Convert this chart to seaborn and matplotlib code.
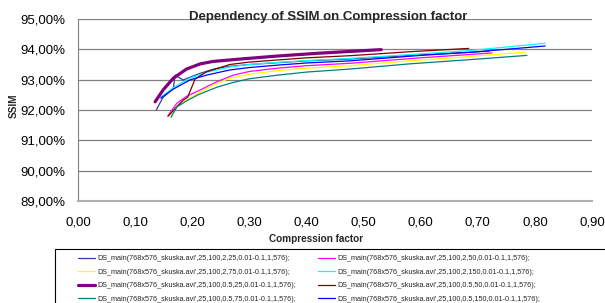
import matplotlib
matplotlib.use("Agg")
import matplotlib.pyplot as plt
import matplotlib.ticker as mticker
from matplotlib.patches import Rectangle
import seaborn as sns

# series labels (legend order, row by row as in the reference)
labels = [
    "DS_main(768x576_skuska.avi',25,100,2,25,0.01-0.1,1,576);",
    "DS_main(768x576_skuska.avi',25,100,2,50,0.01-0.1,1,576);",
    "DS_main(768x576_skuska.avi',25,100,2,75,0.01-0.1,1,576);",
    "DS_main(768x576_skuska.avi',25,100,2,150,0.01-0.1,1,576);",
    "DS_main(768x576_skuska.avi',25,100,0.5,25,0.01-0.1,1,576);",
    "DS_main(768x576_skuska.avi',25,100,0.5,50,0.01-0.1,1,576);",
    "DS_main(768x576_skuska.avi',25,100,0.5,75,0.01-0.1,1,576);",
    "DS_main(768x576_skuska.avi',25,100,0.5,150,0.01-0.1,1,576);",
]

# compression factor / SSIM (%)
cf_2_25 = [0.137, 0.149, 0.167, 0.170, 0.184, 0.214, 0.24, 0.266, 0.30, 0.35, 0.40, 0.476, 0.60, 0.72]
ssim_2_25 = [92.00, 92.42, 92.72, 93.15, 92.99, 93.21, 93.36, 93.44, 93.50, 93.56, 93.62, 93.68, 93.82, 93.94]

cf_2_50 = [0.157, 0.173, 0.19, 0.214, 0.243, 0.272, 0.30, 0.35, 0.40, 0.476, 0.60, 0.725]
ssim_2_50 = [91.80, 92.22, 92.45, 92.66, 92.93, 93.15, 93.27, 93.38, 93.46, 93.54, 93.72, 93.88]

cf_2_75 = [0.162, 0.173, 0.19, 0.21, 0.24, 0.266, 0.30, 0.35, 0.40, 0.476, 0.58, 0.686, 0.783]
ssim_2_75 = [91.78, 92.12, 92.32, 92.55, 92.85, 93.05, 93.18, 93.30, 93.38, 93.46, 93.62, 93.76, 93.91]

cf_2_150 = [0.145, 0.167, 0.196, 0.225, 0.266, 0.30, 0.35, 0.40, 0.476, 0.60, 0.686, 0.818]
ssim_2_150 = [92.42, 92.74, 93.05, 93.24, 93.42, 93.50, 93.57, 93.63, 93.70, 93.85, 93.96, 94.20]

cf_05_25 = [0.135, 0.149, 0.167, 0.19, 0.214, 0.236, 0.284, 0.35, 0.42, 0.476, 0.531]
ssim_05_25 = [92.27, 92.66, 93.05, 93.35, 93.52, 93.60, 93.68, 93.78, 93.87, 93.93, 93.99]

cf_05_50 = [0.158, 0.173, 0.184, 0.192, 0.205, 0.225, 0.266, 0.30, 0.35, 0.40, 0.476, 0.58, 0.684]
ssim_05_50 = [91.80, 92.11, 92.32, 92.42, 93.02, 93.26, 93.50, 93.58, 93.65, 93.72, 93.79, 93.92, 94.03]

cf_05_75 = [0.163, 0.173, 0.19, 0.21, 0.243, 0.27, 0.30, 0.35, 0.40, 0.476, 0.58, 0.686, 0.786]
ssim_05_75 = [91.76, 92.10, 92.30, 92.50, 92.75, 92.90, 93.03, 93.15, 93.25, 93.35, 93.52, 93.66, 93.80]

cf_05_150 = [0.145, 0.167, 0.196, 0.225, 0.266, 0.30, 0.35, 0.40, 0.476, 0.60, 0.686, 0.818]
ssim_05_150 = [92.39, 92.69, 92.99, 93.15, 93.32, 93.40, 93.48, 93.55, 93.62, 93.80, 93.90, 94.11]

xs = [cf_2_25, cf_2_50, cf_2_75, cf_2_150, cf_05_25, cf_05_50, cf_05_75, cf_05_150]
ys = [ssim_2_25, ssim_2_50, ssim_2_75, ssim_2_150, ssim_05_25, ssim_05_50, ssim_05_75, ssim_05_150]

colors = ["#3a3a96", "#ff00ff", "#ffff00", "#00ffff", "#800080", "#800000", "#008080", "#0000ff"]
widths = [0.9, 0.9, 0.9, 0.9, 2.3, 0.9, 0.9, 0.9]

sns.set_style("white")
plt.rcParams["font.family"] = ["Liberation Sans", "DejaVu Sans"]

fig = plt.figure(figsize=(6.05, 3.03), dpi=100)
ax = fig.add_axes([78 / 605, 1 - 201 / 303, (592 - 78) / 605, (201 - 19) / 303])

for x, y, c, w, lab in zip(xs, ys, colors, widths, labels):
    sns.lineplot(x=x, y=y, color=c, linewidth=w, label=lab, estimator=None, ax=ax)

ax.set_xlim(0, 0.9)
ax.set_ylim(89, 95)
ax.set_xticks([i / 10 for i in range(10)])
ax.set_yticks(range(89, 96))
ax.xaxis.set_major_formatter(mticker.FuncFormatter(lambda v, p: f"{v:.2f}".replace(".", ",")))
ax.yaxis.set_major_formatter(mticker.FuncFormatter(lambda v, p: f"{v:.2f}%".replace(".", ",")))
ax.tick_params(axis="both", labelsize=9.5, colors="#808080", labelcolor="black", length=3, width=0.8,
               direction="out")
ax.tick_params(axis="x", pad=8)
ax.tick_params(axis="y", pad=6)
ax.grid(axis="y", color="#808080", linewidth=0.9)
for s in ["top", "right"]:
    ax.spines[s].set_visible(False)
ax.spines["left"].set_color("#808080")
ax.spines["bottom"].set_color("#b0b0b0")
ax.spines["bottom"].set_linewidth(1.5)
ax.set_xlabel("")
ax.set_ylabel("")

fig.text(328 / 605, 1 - 17 / 303, "Dependency of SSIM on Compression factor", ha="center", va="center",
         fontsize=9.5, fontweight="bold")
fig.text(316 / 605, 1 - 239 / 303, "Compression factor", ha="center", va="center", fontsize=7.2,
         fontweight="bold")
fig.text(14 / 605, 1 - 106 / 303, "SSIM", ha="center", va="center", rotation=90, fontsize=7.2,
         fontweight="bold")

# legend box (runs past the figure edge in the reference)
fig.patches.append(Rectangle((55 / 605, -0.2), 0.97, 1 - 249 / 303 + 0.2, transform=fig.transFigure,
                             fill=False, edgecolor="black", linewidth=0.8))

handles, labs = ax.get_legend_handles_labels()
order = [0, 2, 4, 6, 1, 3, 5, 7]
ax.get_legend().remove()
fig.legend([handles[i] for i in order], [labs[i] for i in order], ncol=2, frameon=False,
           loc="upper left", bbox_to_anchor=(72 / 605, 1 - 249 / 303), fontsize=5.2,
           handlelength=2.3, handletextpad=0.4, columnspacing=3.0, labelspacing=0.9,
           borderpad=0.35)

fig.savefig("out.png", dpi=100)
